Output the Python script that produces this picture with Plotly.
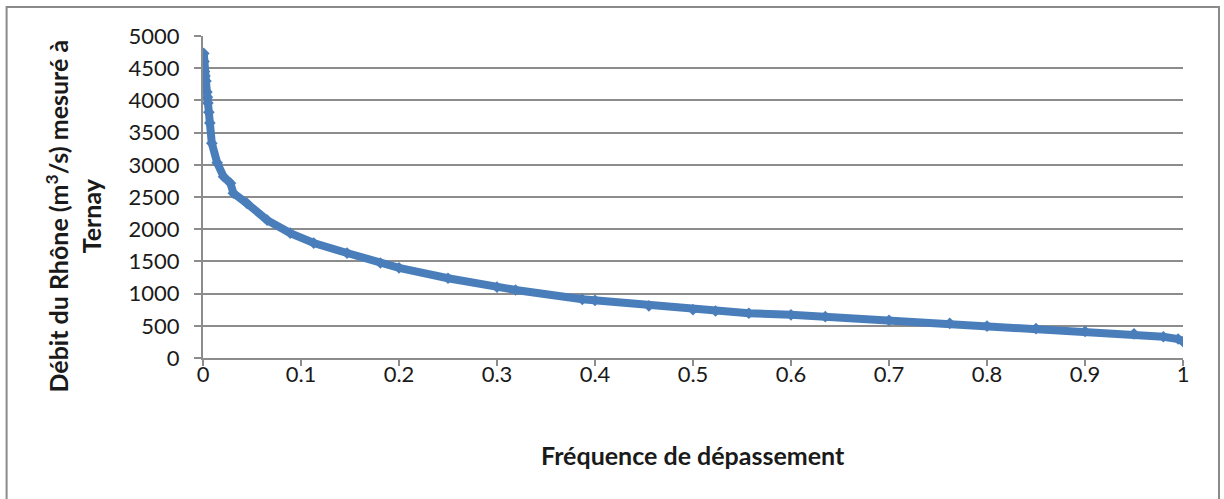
import plotly.graph_objects as go

# Flow duration curve of the Rhône at Ternay
freq = [0.0008, 0.001, 0.0015, 0.002, 0.003, 0.004, 0.0045, 0.005, 0.006, 0.007,
        0.009, 0.0145, 0.021, 0.028, 0.031, 0.045, 0.0655, 0.089, 0.113, 0.147,
        0.181, 0.2, 0.25, 0.3, 0.319, 0.387, 0.4, 0.455, 0.5, 0.523, 0.557,
        0.6, 0.635, 0.7, 0.762, 0.8, 0.85, 0.9, 0.95, 0.98, 0.995, 1.0]
debit = [4730, 4605, 4450, 4380, 4300, 4130, 4050, 3960, 3815, 3650,
         3335, 3030, 2815, 2715, 2560, 2400, 2140, 1940, 1785, 1630,
         1475, 1400, 1238, 1100, 1056, 911, 895, 808, 750, 730, 695,
         670, 641, 585, 539, 495, 455, 412, 375, 330, 295, 255]

x_ticks = [0, 0.1, 0.2, 0.3, 0.4, 0.5, 0.6, 0.7, 0.8, 0.9, 1]
x_labels = ["0", "0.1", "0.2", "0.3", "0.4", "0.5", "0.6", "0.7", "0.8", "0.9", "1"]
y_ticks = [0, 500, 1000, 1500, 2000, 2500, 3000, 3500, 4000, 4500, 5000]

blue = "#4a7ebb"
grid = "#8c8c8c"
font_fam = "Lato, 'Open Sans', sans-serif"

fig = go.Figure()
fig.add_trace(go.Scatter(
    x=freq, y=debit, mode="lines+markers",
    line=dict(color=blue, width=8),
    marker=dict(symbol="diamond", size=9, color=blue),
    showlegend=False, hoverinfo="x+y",
))

L, R, T, B = 202.5, 41, 36, 141
pw = 1224 - L - R
ph = 499 - T - B

def px(xp):
    return (xp - L) / pw

def py(yp):
    return (499 - B - yp) / ph

fig.update_layout(
    width=1224, height=499,
    margin=dict(l=L, r=R, t=T, b=B, autoexpand=False),
    paper_bgcolor="white", plot_bgcolor="white",
    font=dict(family=font_fam, size=22, color="#1a1a1a"),
    xaxis=dict(range=[0, 1], tickvals=x_ticks, ticktext=x_labels,
               showgrid=False, showline=True, linecolor=grid, linewidth=2,
               ticks="outside", ticklen=6, tickcolor=grid, tickwidth=2,
               ticklabelstandoff=-10,
               zeroline=False, tickfont=dict(size=22)),
    yaxis=dict(range=[0, 5000], tickvals=y_ticks,
               showgrid=True, gridcolor=grid, gridwidth=2,
               showline=True, linecolor=grid, linewidth=2,
               ticks="outside", ticklen=7, tickcolor=grid, tickwidth=2,
               ticklabelstandoff=10,
               zeroline=False, tickfont=dict(size=22)),
    shapes=[dict(type="rect", xref="paper", yref="paper",
                 x0=px(6), x1=px(1219), y0=py(7), y1=py(520),
                 line=dict(color="#8a8a8a", width=2), fillcolor="rgba(0,0,0,0)",
                 layer="below")],
    annotations=[
        dict(text="<b>Fréquence de dépassement</b>", xref="paper", yref="paper",
             x=0.5, y=py(455), xanchor="center", yanchor="middle",
             showarrow=False, font=dict(size=25, family=font_fam, color="#1a1a1a")),
        dict(text="<b>Débit du Rhône (m<sup>3</sup>/s) mesuré à<br>Ternay</b>",
             xref="paper", yref="paper", x=px(73), y=py(216),
             xanchor="center", yanchor="middle", textangle=-90,
             showarrow=False, font=dict(size=25, family=font_fam, color="#1a1a1a")),
    ],
)

fig.write_html("out.html", config={"displayModeBar": False},
               post_script="document.body.style.margin='0';")
